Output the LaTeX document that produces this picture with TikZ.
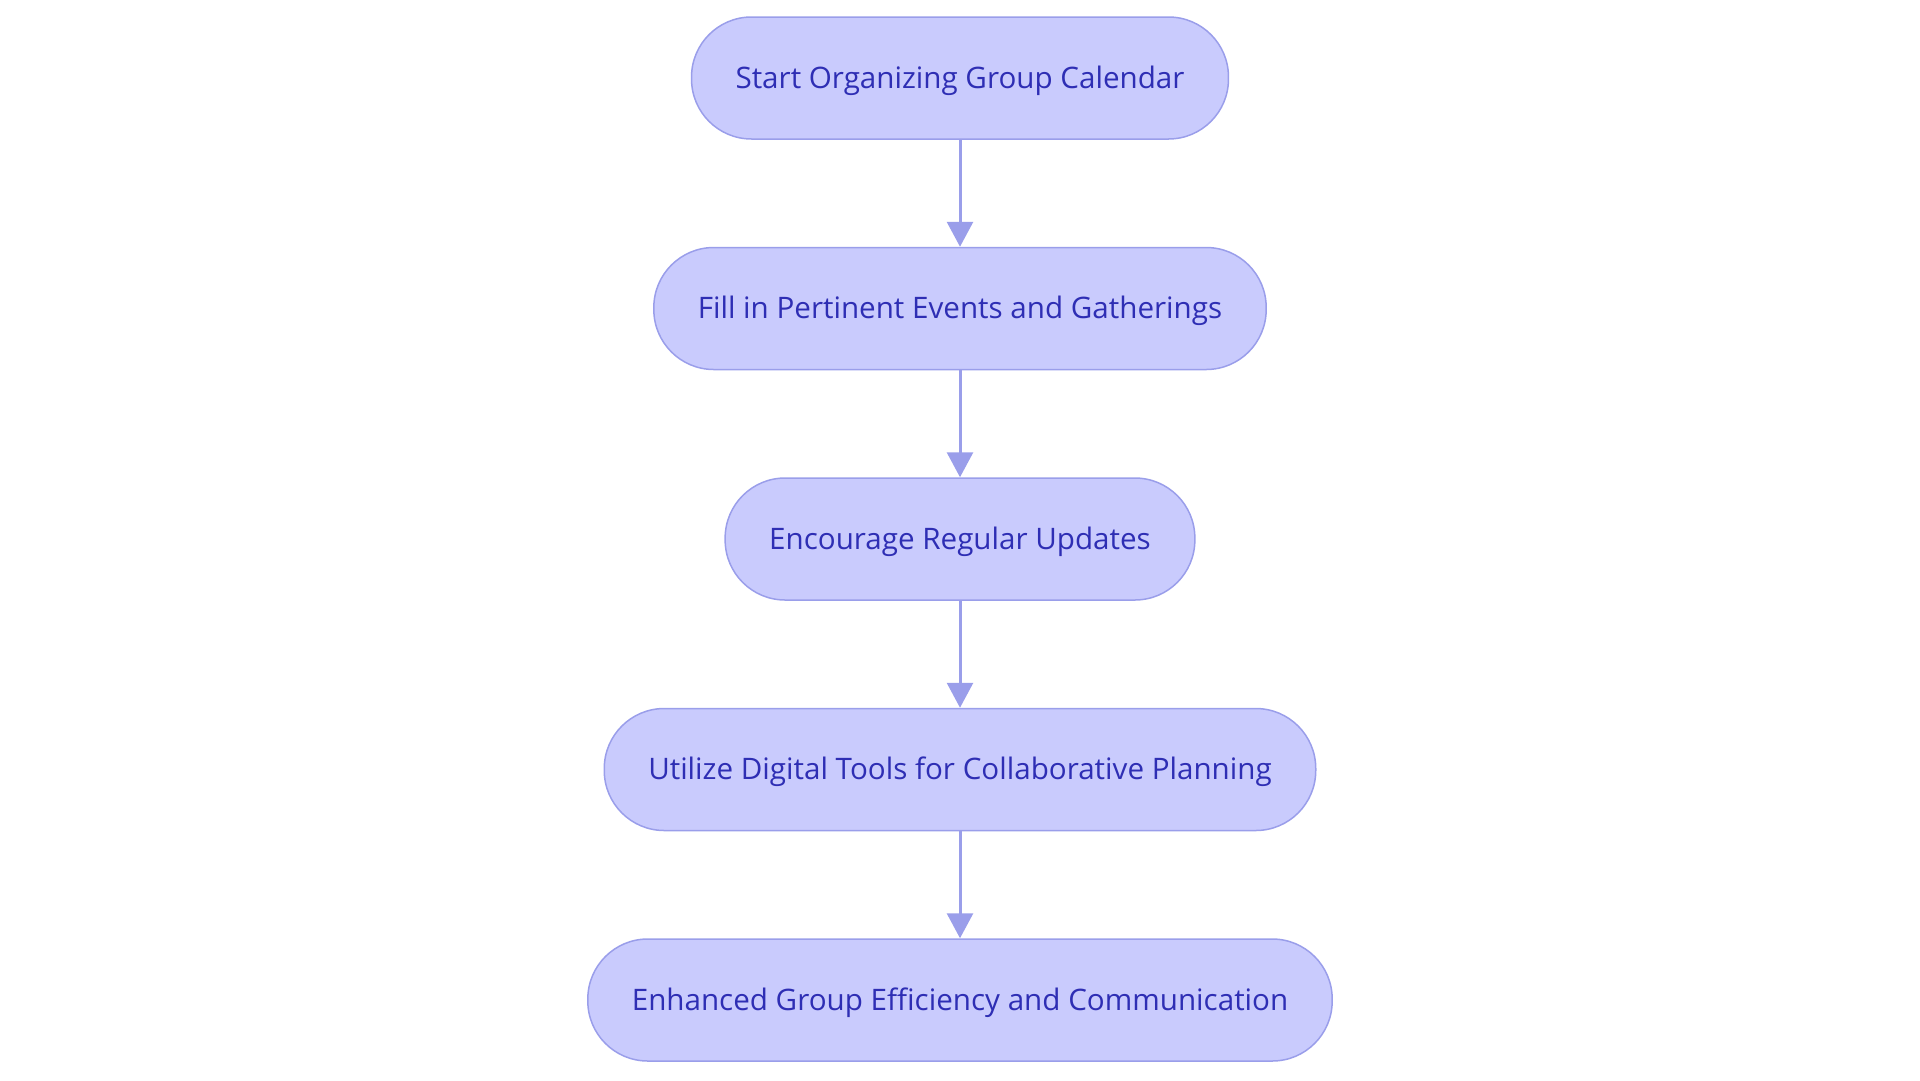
\documentclass[tikz,border=0pt]{standalone}
\usepackage{fontspec}
\setmainfont{Open Sans}
\usepackage{xcolor}
\usetikzlibrary{positioning,arrows.meta}
\definecolor{stepfill}{HTML}{C9CBFD}
\definecolor{stepline}{HTML}{9A9EEA}
\definecolor{steptext}{HTML}{2E2EB4}

\begin{document}
\begin{tikzpicture}[
    x=1pt, y=1pt,
    node distance=107pt,
    stepbox/.style={rectangle, rounded corners=60pt, draw=stepline, line width=1.5pt, fill=stepfill, text=steptext, minimum height=122pt, inner xsep=44pt, text depth=2pt, font=\fontsize{29.6}{34}\selectfont},
    arrow/.style={-{Triangle[length=25pt, width=26pt]}, draw=stepline, line width=3pt}
]
\useasboundingbox (0,0) rectangle (1920,-1080);

% Steps
\node[stepbox] (start) at (960,-78) {Start Organizing Group Calendar};
\node[stepbox, below=of start] (fill) {Fill in Pertinent Events and Gatherings};
\node[stepbox, below=of fill] (updates) {Encourage Regular Updates};
\node[stepbox, below=of updates] (tools) {Utilize Digital Tools for Collaborative Planning};
\node[stepbox, below=of tools] (result) {Enhanced Group Efficiency and Communication};

% Arrows
\draw[arrow] (start) -- (fill);
\draw[arrow] (fill) -- (updates);
\draw[arrow] (updates) -- (tools);
\draw[arrow] (tools) -- (result);

\end{tikzpicture}
\end{document}
